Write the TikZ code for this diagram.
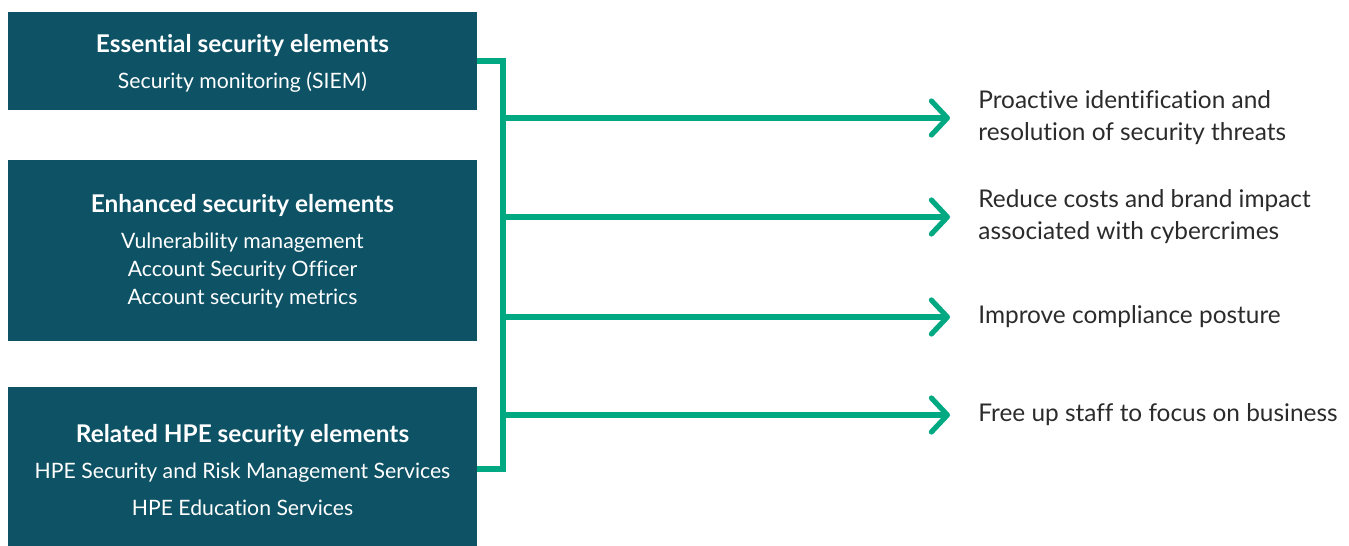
\documentclass[tikz,border=0pt]{standalone}
\usepackage{fontspec}
\setmainfont{Lato}[Ligatures=NoCommon]
\usetikzlibrary{arrows.meta}
\definecolor{hpeteal}{HTML}{0E5265}
\definecolor{hpegreen}{HTML}{01A982}
\definecolor{txtgray}{HTML}{2B2B2B}
\begin{document}
\begin{tikzpicture}[x=.5pt,y=-.5pt,
  box/.style={fill=hpeteal,minimum width=234.5pt,inner sep=0pt},
  boxtitle/.style={text=white,font=\fontsize{12.2}{14}\selectfont\bfseries},
  boxline/.style={text=white,font=\fontsize{10.6}{14}\selectfont,align=center},
  link/.style={draw=hpegreen,line width=2.6pt},
  goal/.style={anchor=west,inner sep=0pt,text=txtgray,align=left,
    font=\fontsize{12.2}{16}\selectfont}]
\useasboundingbox (0,0) rectangle (1349,546);
% boxes on the left
\node[box,minimum height=49pt](b1) at (242.5,61){};
\node[box,minimum height=90.5pt](b2) at (242.5,250.5){};
\node[box,minimum height=79.5pt](b3) at (242.5,466.5){};
\node[boxtitle](t1) at (242.5,45){Essential security elements};
\node[boxline](s1) at (242.5,82){Security monitoring (SIEM)};
\node[boxtitle](t2) at (242.5,205){Enhanced security elements};
\node[boxline](s2) at (242.5,271){Vulnerability management\\Account Security Officer\\Account security metrics};
\node[boxtitle](t3) at (242.5,435){Related HPE security elements};
\node[boxline,font=\fontsize{10.6}{18.5}\selectfont](s3) at (242.5,489.5){HPE Security and Risk Management Services\\HPE Education Services};
% outcomes on the right
\node[goal](r1) at (978,118){Proactive identification and\\resolution of security threats};
\node[goal](r2) at (978,217){Reduce costs and brand impact\\associated with cybercrimes};
\node[goal](r3) at (978,317){Improve compliance posture};
\node[goal](r4) at (978,415){Free up staff to focus on business};
% bracket and arrows
\coordinate (top) at (503,61);
\coordinate (bot) at (503,469);
\draw[link,line join=miter] (b1.east) -- (top) -- (bot) -- (b3.east|-bot);
\foreach \i in {1,...,4}
  \draw[link,-{Straight Barb[length=8pt,width=17pt,line cap=round,line join=round]},shorten >=14pt]
    (top|-r\i.west) -- (r\i.west);
\end{tikzpicture}
\end{document}
